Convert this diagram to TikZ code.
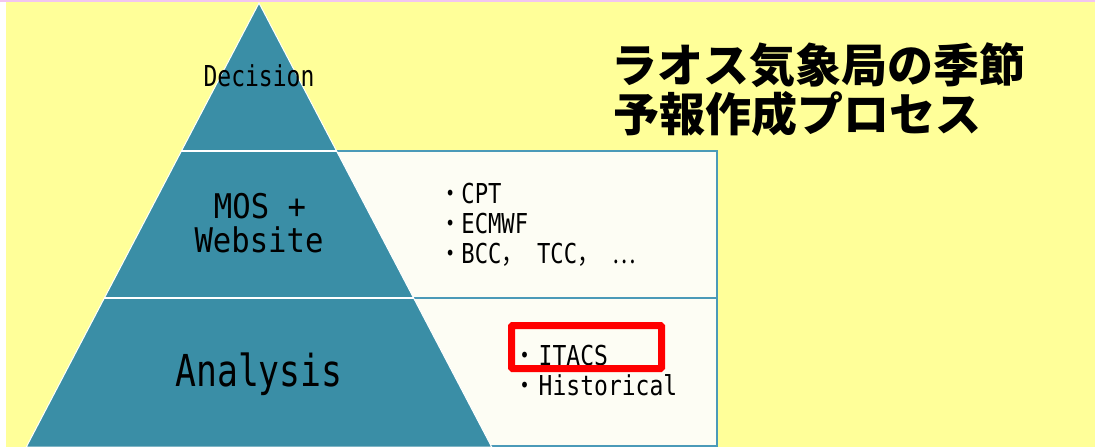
\documentclass[tikz,border=0pt]{standalone}
\usepackage{fontspec}
\usepackage{graphicx}
\setmainfont{DejaVu Sans}
\newfontfamily\cjk{Noto Sans CJK JP}
\newfontfamily\gmono{DejaVu Sans Mono}
\definecolor{bgyellow}{HTML}{FFFF99}
\definecolor{pinkline}{HTML}{F2C6F0}
\definecolor{pyr}{HTML}{3A8EA6}
\definecolor{panelfill}{HTML}{FDFDF4}
\definecolor{panelline}{HTML}{4B9AB8}
\newcommand\hsq[2]{\scalebox{#1}[1]{#2}}
\begin{document}
\begin{tikzpicture}[x=1pt,y=-1pt,
  lbl/.style={inner sep=0pt, text=black},
  bul/.style={lbl, anchor=base west, font=\fontsize{27.4}{30}\selectfont},
  ttl/.style={lbl, anchor=base west, font=\cjk\bfseries\fontsize{46}{50}\selectfont},
  sep/.style={white, line width=2.2pt},
  box/.style={fill=panelfill, draw=panelline, line width=1.6pt}]
\useasboundingbox (0,0) rectangle (1095,447);
\fill[white] (0,0) rectangle (1095,447);
\fill[bgyellow] (6,2) rectangle (1095,447);
\fill[pinkline] (0,0) rectangle (1095,2);
% right panel
\draw[box] (330,151) rectangle (717,446);
\draw[panelline, line width=1.6pt] (330,298) -- (717,298);
% pyramid
\fill[pyr, draw=white, line width=1pt] (259,3) -- (26.3,447) -- (491.7,447) -- cycle;
\draw[sep] (181.4,151) -- (337,151);
\draw[sep] (104.4,298) -- (414,298);
% pyramid labels
\node[lbl, anchor=base] (dec) at (259,86) {\gmono\fontsize{28.8}{30}\selectfont\hsq{0.8}{Decision}};
\node[lbl, anchor=base] (mos) at (260,218) {\gmono\fontsize{34}{36}\selectfont\hsq{0.9}{MOS +}};
\node[lbl, anchor=base] (web) at (259,252) {\gmono\fontsize{34}{36}\selectfont\hsq{0.9}{Website}};
\node[lbl, anchor=base] (ana) at (259,386) {\gmono\fontsize{44}{46}\selectfont\hsq{0.79}{Analysis}};
% bullets
\node[bul] (cpt) at (439,203) {\hsq{0.81}{{\cjk ・}\gmono CPT}};
\node[bul] (ecm) at (439,233) {\hsq{0.81}{{\cjk ・}\gmono ECMWF}};
\node[bul] (bcc) at (439,263) {\hsq{0.81}{{\cjk ・}\gmono BCC{\cjk ，}\ TCC{\cjk ，}\ {\cjk …}}};
\node[bul] (ita) at (513,365) {\hsq{0.84}{{\cjk ・}\kern3pt\gmono ITACS}};
\node[bul] (his) at (513,395) {\hsq{0.84}{{\cjk ・}\kern3pt\gmono Historical}};
% red highlight
\draw[red, line width=7pt, rounded corners=1pt] (511.5,325.5) rectangle (661.5,368.5);
% title
\node[ttl] (t1) at (611,82) {ラオス気象局の季節};
\node[ttl] (t2) at (613,131) {予報作成プロセス};
\end{tikzpicture}
\end{document}
